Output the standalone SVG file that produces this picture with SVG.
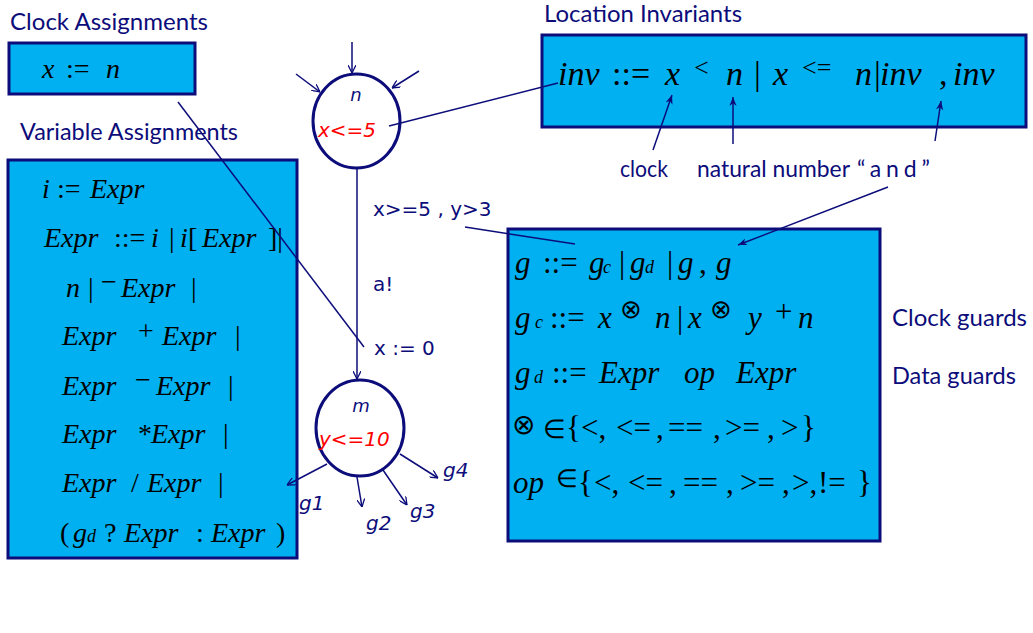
<svg xmlns="http://www.w3.org/2000/svg" width="1033" height="633" viewBox="0 0 1033 633">
<defs>
<style>
.box{fill:#00b0f0;stroke:#0c0c7a;stroke-width:3}
.node{fill:#fff;stroke:#0c0c7a;stroke-width:3}
.ln{stroke:#0c0c7a;stroke-width:1.5;fill:none}
</style>
<marker id="ah" viewBox="0 0 10 10" refX="10" refY="5" markerWidth="8" markerHeight="8" markerUnits="userSpaceOnUse" orient="auto">
<path d="M0,0 L10,5 L0,10" fill="none" stroke="#0c0c7a" stroke-width="1.6"/>
</marker>
<marker id="af" viewBox="0 0 10 10" refX="10" refY="5" markerWidth="10" markerHeight="9" markerUnits="userSpaceOnUse" orient="auto">
<path d="M0,1 L10,5 L0,9 L3,5 z" fill="#0c0c7a"/>
</marker>
</defs>
<rect width="1033" height="633" fill="#fff"/>

<g id="clock-assign">
<text font-family="'Lato', sans-serif" font-size="23" fill="#0c0c7a" x="10" y="30" textLength="198" lengthAdjust="spacingAndGlyphs">Clock Assignments</text>
<rect class="box" x="9" y="43" width="186" height="51"/>
<text font-family="'Liberation Serif', serif" font-style="italic" font-size="28" y="78"><tspan x="42">x</tspan><tspan font-style="normal" x="66">:=</tspan><tspan x="106">n</tspan></text>
</g>

<g id="var-assign">
<text font-family="'Lato', sans-serif" font-size="23" fill="#0c0c7a" x="20" y="140" textLength="218" lengthAdjust="spacingAndGlyphs">Variable Assignments</text>
<rect class="box" x="8" y="160" width="289" height="398"/>
<text font-family="'Liberation Serif', serif" font-style="italic" font-size="28" y="198"><tspan x="42">i</tspan><tspan font-style="normal" x="57">:=</tspan><tspan x="90">Expr</tspan></text>
<text font-family="'Liberation Serif', serif" font-style="italic" font-size="28" y="247"><tspan x="44">Expr</tspan><tspan font-style="normal" x="114">::=</tspan><tspan x="151">i</tspan><tspan font-style="normal" x="169">|</tspan><tspan x="180">i</tspan><tspan font-style="normal" x="188">[</tspan><tspan x="202">Expr</tspan><tspan font-style="normal" x="268">]|</tspan></text>
<text font-family="'Liberation Serif', serif" font-style="italic" font-size="28" y="297"><tspan x="66">n</tspan><tspan font-style="normal" x="88">|</tspan><tspan font-style="normal" x="101" dy="-6">&#8722;</tspan><tspan x="121" dy="6">Expr</tspan><tspan font-style="normal" x="191">|</tspan></text>
<text font-family="'Liberation Serif', serif" font-style="italic" font-size="28" y="345"><tspan x="62">Expr</tspan><tspan font-style="normal" x="138" dy="-5">+</tspan><tspan x="162" dy="5">Expr</tspan><tspan font-style="normal" x="235">|</tspan></text>
<text font-family="'Liberation Serif', serif" font-style="italic" font-size="28" y="395"><tspan x="62">Expr</tspan><tspan font-style="normal" x="135" dy="-6">&#8722;</tspan><tspan x="156" dy="6">Expr</tspan><tspan font-style="normal" x="228">|</tspan></text>
<text font-family="'Liberation Serif', serif" font-style="italic" font-size="28" y="443"><tspan x="62">Expr</tspan><tspan font-style="normal" x="138">*</tspan><tspan x="151">Expr</tspan><tspan font-style="normal" x="223">|</tspan></text>
<text font-family="'Liberation Serif', serif" font-style="italic" font-size="28" y="492"><tspan x="62">Expr</tspan><tspan font-style="normal" x="131">/</tspan><tspan x="147">Expr</tspan><tspan font-style="normal" x="218">|</tspan></text>
<text font-family="'Liberation Serif', serif" font-style="italic" font-size="28" y="542"><tspan font-style="normal" x="60">(</tspan><tspan x="73">g</tspan><tspan font-size="18" x="87">d</tspan><tspan font-style="normal" x="104">?</tspan><tspan x="124">Expr</tspan><tspan font-style="normal" x="196">:</tspan><tspan x="211">Expr</tspan><tspan font-style="normal" x="276">)</tspan></text>
</g>

<g id="loc-inv">
<text font-family="'Lato', sans-serif" font-size="23" fill="#0c0c7a" x="544" y="22" textLength="198" lengthAdjust="spacingAndGlyphs">Location Invariants</text>
<rect class="box" x="542" y="35" width="484" height="92"/>
<text font-family="'Liberation Serif', serif" font-style="italic" font-size="34" y="85"><tspan x="558">inv</tspan><tspan font-style="normal" x="612">::=</tspan><tspan x="665">x</tspan><tspan font-style="normal" x="694" dy="-9" font-size="26">&lt;</tspan><tspan x="726" dy="9">n</tspan><tspan font-style="normal" x="754">|</tspan><tspan x="773">x</tspan><tspan font-style="normal" x="802" dy="-9" font-size="26">&lt;=</tspan><tspan x="855" dy="9">n</tspan><tspan font-style="normal" x="874">|</tspan><tspan x="880">inv</tspan><tspan font-style="normal" x="939">,</tspan><tspan x="953">inv</tspan></text>
<text font-family="'Lato', sans-serif" font-size="23" fill="#0c0c7a" x="620" y="177" textLength="48" lengthAdjust="spacingAndGlyphs">clock</text>
<text font-family="'Lato', sans-serif" font-size="23" fill="#0c0c7a" x="697" y="177" textLength="153" lengthAdjust="spacingAndGlyphs">natural number</text>
<text font-family="'Lato', sans-serif" font-size="23" fill="#0c0c7a" x="857" y="177" textLength="73" lengthAdjust="spacing">&#8220;and&#8221;</text>
</g>

<g id="guards">
<rect class="box" x="508" y="229" width="372" height="312"/>
<text font-family="'Liberation Serif', serif" font-style="italic" font-size="31" y="273"><tspan x="515">g</tspan><tspan font-style="normal" x="543">::=</tspan><tspan x="589">g</tspan><tspan font-size="18" x="603">c</tspan><tspan font-style="normal" x="619">|</tspan><tspan x="630">g</tspan><tspan font-size="18" x="645">d</tspan><tspan font-style="normal" x="667">|</tspan><tspan x="678">g</tspan><tspan font-style="normal" x="699">,</tspan><tspan x="716">g</tspan></text>
<text font-family="'Liberation Serif', serif" font-style="italic" font-size="31" y="328"><tspan x="515">g</tspan><tspan font-size="18" x="535">c</tspan><tspan font-style="normal" x="550">::=</tspan><tspan x="598">x</tspan><tspan font-style="normal" x="620" dy="-10" font-size="26">&#8855;</tspan><tspan x="655" dy="10">n</tspan><tspan font-style="normal" x="677">|</tspan><tspan x="688">x</tspan><tspan font-style="normal" x="710" dy="-10" font-size="26">&#8855;</tspan><tspan x="748" dy="10">y</tspan><tspan font-style="normal" x="775" dy="-6">+</tspan><tspan x="798" dy="6">n</tspan></text>
<text font-family="'Liberation Serif', serif" font-style="italic" font-size="31" y="383"><tspan x="515">g</tspan><tspan font-size="18" x="534">d</tspan><tspan font-style="normal" x="552">::=</tspan><tspan x="599">Expr</tspan><tspan x="684">op</tspan><tspan x="736">Expr</tspan></text>
<text font-family="'Liberation Serif', serif" font-size="31" y="438"><tspan x="512" font-size="28" dy="-4">&#8855;</tspan><tspan x="543" dy="4" font-size="26">&#8712;</tspan><tspan x="566">{</tspan><tspan x="581">&lt;,</tspan><tspan x="616">&lt;=</tspan><tspan x="656">,</tspan><tspan x="668">==</tspan><tspan x="713">,</tspan><tspan x="725">&gt;=</tspan><tspan x="767">,</tspan><tspan x="781">&gt;</tspan><tspan x="801">}</tspan></text>
<text font-family="'Liberation Serif', serif" font-style="italic" font-size="31" y="493"><tspan x="513">op</tspan><tspan font-style="normal" x="556" dy="-6" font-size="25">&#8712;</tspan><tspan font-style="normal" x="578" dy="6">{</tspan><tspan font-style="normal" x="594">&lt;,</tspan><tspan font-style="normal" x="628">&lt;=</tspan><tspan font-style="normal" x="669">,</tspan><tspan font-style="normal" x="683">==</tspan><tspan font-style="normal" x="726">,</tspan><tspan font-style="normal" x="740">&gt;=</tspan><tspan font-style="normal" x="782">,</tspan><tspan font-style="normal" x="792">&gt;,</tspan><tspan font-style="normal" x="818">!=</tspan><tspan font-style="normal" x="857">}</tspan></text>
<text font-family="'Lato', sans-serif" font-size="23" fill="#0c0c7a" x="892" y="326" textLength="135" lengthAdjust="spacingAndGlyphs">Clock guards</text>
<text font-family="'Lato', sans-serif" font-size="23" fill="#0c0c7a" x="892" y="384" textLength="124" lengthAdjust="spacingAndGlyphs">Data guards</text>
</g>

<g id="node-n">
<ellipse class="node" cx="356.5" cy="121" rx="43.5" ry="47"/>
<text font-family="'DejaVu Sans', sans-serif" font-style="italic" font-size="18" fill="#0c0c7a" x="356" y="101" text-anchor="middle">n</text>
<text font-family="'DejaVu Sans', sans-serif" font-style="italic" font-size="20" fill="#ff0000" x="318" y="137">x&lt;=5</text>
</g>

<g id="node-m">
<ellipse class="node" cx="360" cy="428" rx="44" ry="48"/>
<text font-family="'DejaVu Sans', sans-serif" font-style="italic" font-size="18" fill="#0c0c7a" x="361" y="412" text-anchor="middle">m</text>
<text font-family="'DejaVu Sans', sans-serif" font-style="italic" font-size="20" fill="#ff0000" x="319" y="446">y&lt;=10</text>
</g>

<g id="connectors">
<line class="ln" x1="352" y1="42" x2="352" y2="73" marker-end="url(#ah)"/>
<line class="ln" x1="296" y1="74" x2="320" y2="92" marker-end="url(#ah)"/>
<line class="ln" x1="419" y1="71" x2="392" y2="88" marker-end="url(#ah)"/>
<line class="ln" x1="357" y1="168" x2="357" y2="379" marker-end="url(#ah)"/>
<line class="ln" x1="178" y1="102" x2="364" y2="347"/>
<line class="ln" x1="389" y1="126" x2="558" y2="83"/>
<line class="ln" x1="465" y1="227" x2="575" y2="244"/>
<line class="ln" x1="888" y1="187" x2="738" y2="245" marker-end="url(#af)"/>
<line class="ln" x1="653" y1="150" x2="672" y2="95" marker-end="url(#af)"/>
<line class="ln" x1="733" y1="144" x2="733" y2="97" marker-end="url(#af)"/>
<line class="ln" x1="935" y1="141" x2="941" y2="101" marker-end="url(#af)"/>
<line class="ln" x1="327" y1="464" x2="287" y2="485" marker-end="url(#ah)"/>
<line class="ln" x1="357" y1="477" x2="362" y2="507" marker-end="url(#ah)"/>
<line class="ln" x1="383" y1="470" x2="407" y2="505" marker-end="url(#ah)"/>
<line class="ln" x1="400" y1="454" x2="438" y2="478" marker-end="url(#ah)"/>
<text font-family="'DejaVu Sans', sans-serif" font-size="20" fill="#0c0c7a" x="373" y="216">x&gt;=5 , y&gt;3</text>
<text font-family="'DejaVu Sans', sans-serif" font-size="20" fill="#0c0c7a" x="373" y="291">a!</text>
<text font-family="'DejaVu Sans', sans-serif" font-size="20" fill="#0c0c7a" x="374" y="355">x := 0</text>
<text font-family="'DejaVu Sans', sans-serif" font-style="italic" font-size="20" fill="#0c0c7a" x="299" y="510">g1</text>
<text font-family="'DejaVu Sans', sans-serif" font-style="italic" font-size="20" fill="#0c0c7a" x="366" y="530">g2</text>
<text font-family="'DejaVu Sans', sans-serif" font-style="italic" font-size="20" fill="#0c0c7a" x="410" y="518">g3</text>
<text font-family="'DejaVu Sans', sans-serif" font-style="italic" font-size="20" fill="#0c0c7a" x="443" y="477">g4</text>
</g>
</svg>
